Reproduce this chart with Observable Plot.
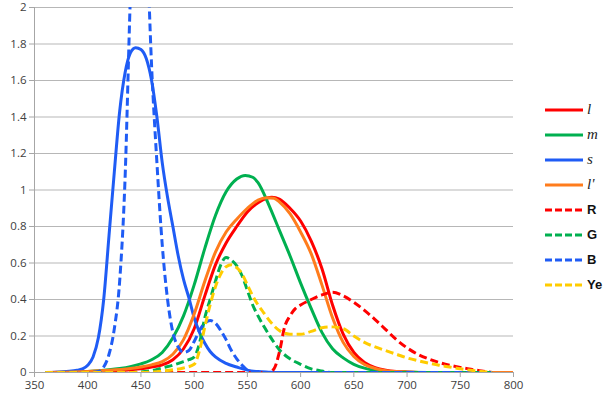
<!DOCTYPE html>
<html>
<head>
<meta charset="utf-8">
<script src="https://cdn.jsdelivr.net/npm/d3@7"></script>
<script src="https://cdn.jsdelivr.net/npm/@observablehq/plot@0.6"></script>
<style>
  html, body { margin: 0; padding: 0; background: #fff; }
  #wrap { position: relative; width: 606px; height: 400px; overflow: hidden; }
  #legend { position: absolute; left: 545px; top: 97px; }
  .row { height: 25px; display: flex; align-items: center; }
  .row svg { display: block; margin-right: 4px; }
  .it { font-family: "Liberation Serif", "DejaVu Serif", serif; font-style: italic; font-size: 15px; color: #222; }
  .bd { font-family: "Liberation Sans", Arial, sans-serif; font-weight: bold; font-size: 13px; color: #111; }
</style>
</head>
<body>
<div id="wrap"><div id="chart"></div><div id="legend"></div></div>
<script>
// Wavelength (nm) / value pairs
const lCurve = [[360,0],[380,0.002],[400,0.004],[420,0.008],[440,0.015],[450,0.02],[460,0.03],[470,0.042],[480,0.07],[490,0.13],[500,0.24],[510,0.42],[520,0.59],[530,0.71],[540,0.8],[550,0.88],[560,0.93],[568,0.955],[573,0.96],[580,0.95],[590,0.9],[600,0.83],[610,0.72],[620,0.57],[630,0.37],[640,0.21],[650,0.11],[660,0.055],[670,0.027],[680,0.013],[690,0.006],[700,0.003],[720,0],[800,0]];
const mCurve = [[360,0],[380,0.002],[400,0.006],[420,0.015],[430,0.022],[440,0.032],[450,0.047],[460,0.07],[470,0.11],[480,0.19],[490,0.31],[500,0.48],[510,0.68],[520,0.86],[530,0.99],[540,1.06],[548,1.08],[555,1.07],[560,1.04],[570,0.92],[580,0.78],[590,0.64],[600,0.49],[610,0.35],[620,0.22],[630,0.13],[640,0.08],[650,0.045],[660,0.024],[670,0.012],[680,0.006],[690,0.003],[700,0.001],[720,0],[800,0]];
const sCurve = [[360,0],[370,0.002],[380,0.006],[390,0.012],[395,0.02],[400,0.04],[405,0.085],[410,0.19],[415,0.4],[420,0.75],[425,1.1],[430,1.43],[435,1.64],[440,1.75],[445,1.78],[450,1.77],[455,1.72],[460,1.6],[465,1.4],[470,1.15],[475,0.96],[480,0.8],[485,0.64],[490,0.51],[495,0.41],[500,0.3],[505,0.22],[510,0.16],[515,0.115],[520,0.085],[530,0.05],[540,0.03],[550,0.013],[560,0.005],[570,0.002],[580,0],[800,0]];
const lPrimeCurve = [[360,0],[380,0.002],[400,0.006],[420,0.012],[440,0.022],[450,0.03],[460,0.042],[470,0.06],[480,0.1],[490,0.18],[500,0.32],[510,0.5],[520,0.66],[530,0.77],[540,0.84],[550,0.9],[560,0.945],[568,0.958],[575,0.955],[580,0.935],[590,0.87],[600,0.77],[610,0.65],[620,0.48],[630,0.3],[640,0.165],[650,0.088],[660,0.044],[670,0.022],[680,0.01],[690,0.005],[700,0.002],[720,0],[800,0]];
const RCurve = [[360,0],[570,0],[575,0.02],[580,0.11],[585,0.25],[590,0.31],[595,0.35],[600,0.37],[610,0.4],[620,0.425],[630,0.44],[640,0.42],[650,0.385],[660,0.34],[670,0.29],[680,0.235],[690,0.18],[700,0.135],[710,0.1],[720,0.075],[730,0.055],[740,0.04],[750,0.028],[760,0.018],[770,0.008],[780,0]];
const GCurve = [[360,0],[440,0],[460,0.01],[470,0.025],[480,0.04],[490,0.06],[495,0.07],[500,0.085],[505,0.16],[510,0.3],[515,0.4],[520,0.5],[525,0.59],[530,0.63],[535,0.615],[540,0.585],[545,0.53],[550,0.45],[555,0.37],[560,0.31],[570,0.21],[580,0.125],[590,0.075],[600,0.045],[610,0.02],[620,0.008],[630,0],[780,0]];
const BCurve = [[360,0],[400,0],[410,0.005],[415,0.03],[420,0.1],[425,0.24],[430,0.5],[435,1.05],[440,2.05],[445,2.8],[450,3.0],[455,2.45],[460,1.68],[465,1.15],[470,0.7],[475,0.4],[480,0.22],[485,0.14],[490,0.11],[495,0.12],[500,0.17],[505,0.23],[510,0.27],[515,0.285],[520,0.27],[525,0.23],[530,0.18],[535,0.12],[540,0.075],[545,0.04],[550,0.012],[555,0],[780,0]];
const YeCurve = [[360,0],[450,0],[470,0.008],[480,0.015],[490,0.025],[500,0.045],[505,0.12],[510,0.25],[515,0.37],[520,0.47],[525,0.54],[530,0.58],[535,0.59],[540,0.575],[545,0.54],[550,0.48],[555,0.42],[560,0.37],[565,0.33],[570,0.29],[580,0.23],[590,0.21],[600,0.21],[610,0.225],[620,0.245],[630,0.25],[640,0.24],[650,0.2],[660,0.165],[670,0.14],[680,0.12],[690,0.1],[700,0.08],[710,0.065],[720,0.052],[730,0.04],[740,0.03],[750,0.02],[760,0.012],[770,0.006],[780,0]];

const seriesNames = ["l", "m", "s", "l'", "R", "G", "B", "Ye"];
const seriesData = [lCurve, mCurve, sCurve, lPrimeCurve, RCurve, GCurve, BCurve, YeCurve];
const seriesColors = ["#ff0000", "#00b050", "#1f5cf5", "#ff7c1c", "#ff0000", "#00b050", "#1f5cf5", "#ffcc00"];
const seriesDashed = [false, false, false, false, true, true, true, true];
const seriesItalic = [true, true, true, true, false, false, false, false];

const xTicks = [350, 400, 450, 500, 550, 600, 650, 700, 750, 800];
const yTicks = [0, 0.2, 0.4, 0.6, 0.8, 1, 1.2, 1.4, 1.6, 1.8, 2];

const font = '"Open Sans", "DejaVu Sans", sans-serif';

const lineMarks = seriesData.map((d, i) => Plot.line(d, {
  x: p => p[0], y: p => p[1],
  stroke: seriesColors[i], strokeWidth: 3,
  strokeDasharray: seriesDashed[i] ? "8,4" : null,
  strokeLinecap: "butt",
  curve: "monotone-x", clip: true
}));

const chart = Plot.plot({
  width: 606, height: 400,
  marginLeft: 34, marginRight: 93, marginTop: 7, marginBottom: 28,
  style: { fontFamily: font, fontSize: "11.5px", color: "#404040", background: "#fff" },
  x: { domain: [350, 800] },
  y: { domain: [0, 2] },
  marks: [
    Plot.gridY(yTicks.slice(1), { stroke: "#b7b7b7", strokeOpacity: 1, strokeWidth: 1 }),
    Plot.ruleX([350], { stroke: "#a6a6a6", strokeWidth: 1 }),
    Plot.ruleY([0], { stroke: "#a6a6a6", strokeWidth: 1 }),
    Plot.axisY(yTicks, { tickSize: 5, tickPadding: 3, tickFormat: d => String(d), stroke: "#a6a6a6", label: null, fill: "#404040" }),
    Plot.axisX(xTicks, { tickSize: 5, tickPadding: 3, tickFormat: d => String(d), stroke: "#a6a6a6", label: null, fill: "#404040" }),
    ...lineMarks
  ]
});
document.getElementById("chart").appendChild(chart);

// Legend
const legend = d3.select("#legend");
seriesNames.forEach((name, i) => {
  const row = legend.append("div").attr("class", "row");
  const svg = row.append("svg").attr("width", 38).attr("height", 6);
  svg.append("line").attr("x1", 0).attr("x2", 38).attr("y1", 3).attr("y2", 3)
    .attr("stroke", seriesColors[i]).attr("stroke-width", 3)
    .attr("stroke-dasharray", seriesDashed[i] ? "7,3" : null);
  row.append("span").attr("class", seriesItalic[i] ? "it" : "bd").text(name);
});
</script>
</body>
</html>
